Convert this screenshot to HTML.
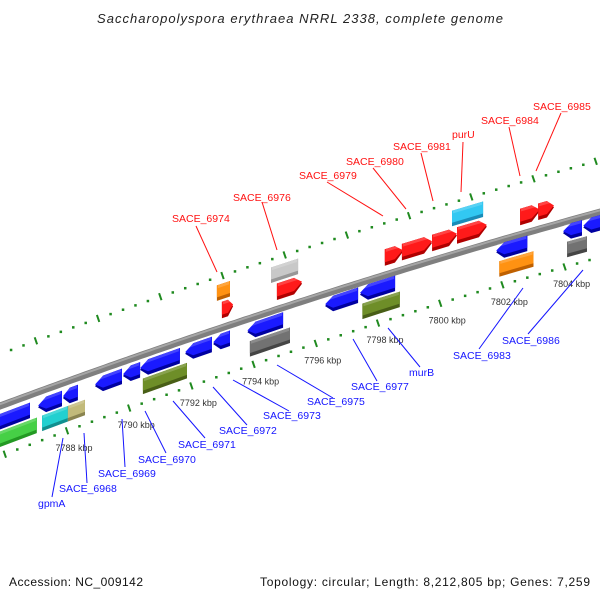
<!DOCTYPE html>
<html><head><meta charset="utf-8"><style>
html,body{margin:0;padding:0;background:#fff;width:600px;height:600px;overflow:hidden}
svg{display:block;font-family:"Liberation Sans",sans-serif}
</style></head><body>
<svg id="map" width="600" height="600" viewBox="0 0 600 600">
<text x="300" y="23" text-anchor="middle" font-size="13" font-style="italic" fill="#222" textLength="406">Saccharopolyspora erythraea NRRL 2338, complete genome</text>
<g id="tracks"></g>
<g id="backbone"></g>
<g id="genes"></g>
<g id="labels"></g>
<text x="9" y="586" font-size="12" fill="#111" textLength="134">Accession: NC_009142</text>
<text x="590" y="586" font-size="12" fill="#111" text-anchor="end" textLength="330">Topology: circular; Length: 8,212,805 bp; Genes: 7,259</text>
</svg>
<script>
// gene data (kbp)
const geneStart = [7785.3,7787.07,7787.87,7788.9,7789.8,7790.35,7791.8,7792.7,7793.8,7796.3,7797.42,7801.8,7803.95,7804.6,
  7785.3,7787.2,7788.03,7790.44,7793.88,7797.5,7801.9,7804.08,
  7792.98,7794.75,7798.22,7798.77,7799.74,7800.54,7802.57,7803.15,
  7792.82,7794.56,7800.38];
const geneEnd = [7786.81,7787.84,7788.35,7789.77,7790.35,7791.63,7792.66,7793.24,7794.95,7797.36,7798.55,7802.8,7804.56,7805.6,
  7787.03,7788.03,7788.58,7791.86,7795.17,7798.7,7803.0,7804.72,
  7793.34,7795.56,7798.8,7799.74,7800.54,7801.5,7803.2,7803.66,
  7793.24,7795.43,7801.38];
const geneLane = [1,1,1,1,1,1,1,1,1,1,1,1,1,1, 2,2,2,2,2,2,2,2, -1,-1,-1,-1,-1,-1,-1,-1, -2,-2,-2];
const geneColor = ['blue','blue','blue','blue','blue','blue','blue','blue','blue','blue','blue','blue','blue','blue',
  'green','cyan','khaki','olive','dgray','olive','orange','dgray',
  'red','red','red','red','red','red','red','red',
  'orange','lgray','sky'];
const tickKbp = [7788,7790,7792,7794,7796,7798,7800,7802,7804];

const palette = {blue:['#1a1aff','#0000a0'],red:['#ff1a1a','#b00000'],green:['#46d046','#239923'],
  cyan:['#22d0d0','#118f8f'],khaki:['#c2ba7a','#8a8450'],olive:['#6e8e28','#485e16'],
  dgray:['#727272','#454545'],lgray:['#c8c8c8','#979797'],orange:['#ff9212','#bf6000'],sky:['#32c8f2','#1a8cb8']};
const lanes = {'1':[3,18.5],'2':[20.5,36],'-1':[-26,-9.5],'-2':[-44,-28.5]};
const NS='http://www.w3.org/2000/svg';
function X(k){return 67+(k-7788)*31.1;}
function bb(x){return 406-0.37*x+7.8e-5*x*x;}
function shift(x,d){return d>0?Math.max(0,5*(1-x/450)):0;}
function Y(x,d){return bb(x)+d+shift(x,d);}
function mk(tag,attrs,parent){const e=document.createElementNS(NS,tag);for(const a in attrs)e.setAttribute(a,attrs[a]);parent.appendChild(e);return e;}

// backbone
const bg=document.getElementById('backbone');
let pts=[],pts2=[];
for(let x=-5;x<=605;x+=5){pts.push(x+','+bb(x).toFixed(1));pts2.push(x+','+(bb(x)-1.8).toFixed(1));}
const b1=mk('polyline',{points:pts.join(' '),fill:'none',stroke:'#7f7f7f','stroke-width':7},bg);


const b2=mk('polyline',{points:pts2.join(' '),fill:'none',stroke:'#a5a5a5','stroke-width':2},bg);



// tick tracks
const tg=document.getElementById('tracks');
function trackD(x,upper){return upper?-52:45+shift(x,1);}
function drawTrack(start,upper){
  for(let i=0;i<60;i++){
    const k=start+0.4*i; const x=X(k); if(x<-5||x>605)continue;
    const y=bb(x)+trackD(x,upper);
    if(i%5===0){
      const l=mk('line',{x1:x-1.2,y1:y-3.5,x2:x+1.2,y2:y+3.5,stroke:'#1f8a1f','stroke-width':2},tg);
      
      
    } else {
      const r=mk('rect',{x:x-1.2,y:y-1.2,width:2.5,height:2.5,fill:'#1f8a1f'},tg);
      
      
    }
  }
}
drawTrack(7784,false);
drawTrack(7785,true);
tickKbp.forEach(k=>{
  const x=X(k),y=bb(x)+trackD(x,false);
  const t=mk('text',{x:x+7,y:y+20,'text-anchor':'middle','font-size':9,fill:'#333'},tg);
  t.textContent=k+' kbp';
  
  
});

// genes
const gg=document.getElementById('genes');
function shape(x1,x2,d1,d2,dir){
  const tip=Math.min(8,(x2-x1)*0.45);
  const p=[];
  const P=(x,d)=>p.push(x.toFixed(1)+','+Y(x,d).toFixed(1));
  const m=(d1+d2)/2;
  if(dir>0){P(x1,d1);P(x2-tip,d1);P(x2,m);P(x2-tip,d2);P(x1,d2);}
  else if(dir<0){P(x1,m);P(x1+tip,d1);P(x2,d1);P(x2,d2);P(x1+tip,d2);}
  else{P(x1,d1);P(x2,d1);P(x2,d2);P(x1,d2);}
  return p.join(' ');
}
for(let i=0;i<geneStart.length;i++){
  const x1=X(geneStart[i]),x2=X(geneEnd[i]);
  const ln=lanes[String(geneLane[i])];
  const c=geneColor[i];
  const dir=c==='blue'?-1:(c==='red'?1:0);
  const g=mk('g',{},gg);
  
  
  mk('polygon',{points:shape(x1,x2,ln[0],ln[1],dir),fill:palette[c][1]},g);
  mk('polygon',{points:shape(x1,x2,ln[0],ln[1]-3.5,dir),fill:palette[c][0]},g);
  mk('polygon',{points:shape(x1+1,x2-1,ln[0],ln[0]+3,0),fill:'#ffffff','fill-opacity':0.18},g);
}

// labels: [textX, baselineY, lineX1, lineY1, lineX2, lineY2]
const labelText=['SACE_6974','SACE_6976','SACE_6979','SACE_6980','SACE_6981','purU','SACE_6984','SACE_6985',
 'gpmA','SACE_6968','SACE_6969','SACE_6970','SACE_6971','SACE_6972','SACE_6973','SACE_6975','SACE_6977','murB','SACE_6983','SACE_6986'];
const labelPos=[[172,222,196,226,217,272],[233,201,262,202,277,250],[299,179,327,182,383,216],[346,165,373,168,406,209],
 [393,150,421,153,433,201],[452,138,463,142,461,192],[481,124,509,127,520,176],[533,110,561,113,536,171],
 [38,507,52,497,63,438],[59,492,87,483,84,433],[98,477,125,467,122,419],[138,463,166,453,145,411],
 [178,448,205,438,173,401],[219,434,247,425,213,387],[263,419,289,411,233,380],[307,405,333,398,277,365],
 [351,390,377,381,353,339],[409,376,420,367,388,328],[453,359,479,349,523,288],[502,344,528,334,583,270]];
const lg=document.getElementById('labels');
labelText.forEach((s,i)=>{
  const p=labelPos[i]; const col=i<8?'#ff1111':'#1414ff';
  const l=mk('line',{x1:p[2],y1:p[3],x2:p[4],y2:p[5],stroke:col,'stroke-width':1},lg);
  
  
  const t=mk('text',{x:p[0],y:p[1],'font-size':10.5,fill:col},lg);
  t.textContent=s;
  
  
});
</script>
</body></html>
